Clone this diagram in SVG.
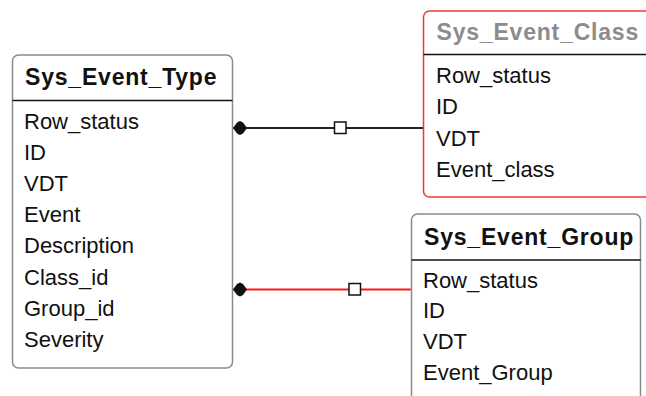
<svg xmlns="http://www.w3.org/2000/svg" width="646" height="396" viewBox="0 0 646 396">
  <style>
    .box { fill: #ffffff; stroke: #8a8a8a; stroke-width: 1.5; }
    .box.sel { stroke: #f03a3a; }
    .sep { stroke: #111111; stroke-width: 1.5; }
    .title { font-family: "Liberation Sans", Arial, sans-serif; font-size: 23px; font-weight: bold; letter-spacing: 0.8px; fill: #111111; }
    .title.dim { fill: #8c8c8c; }
    .field { font-family: "Liberation Sans", Arial, sans-serif; font-size: 22px; fill: #111111; }
    .rel { fill: none; stroke-width: 1.8; }
    .rel.black { stroke: #222222; }
    .rel.red { stroke: #ff1a1a; }
    .end-one { fill: #111111; }
    .mid { fill: #ffffff; stroke: #111111; stroke-width: 1.5; }
  </style>
  <defs>
    <!-- rounded diamond marking the "one" end -->
    <path id="dot" class="end-one" d="M-7,0 L-3,-5.5 L0,-7 L3,-5.5 L7,0 L3,5.5 L0,7 L-3,5.5 Z"/>
  </defs>

  <rect width="646" height="396" fill="#ffffff"/>

  <!-- relationships -->
  <g id="connectors">
    <line class="rel black" x1="232" y1="128" x2="423.5" y2="128"/>
    <use href="#dot" x="240" y="128"/>
    <rect class="mid" x="334.5" y="122" width="11.5" height="11.5"/>

    <line class="rel red" x1="232" y1="289.5" x2="411.5" y2="289.5"/>
    <use href="#dot" x="240" y="289.5"/>
    <rect class="mid" x="349" y="283.5" width="11.5" height="11.5"/>
  </g>

  <!-- Sys_Event_Type -->
  <g id="sys_event_type">
    <rect class="box" x="12.5" y="55" width="220" height="313" rx="6"/>
    <line class="sep" x1="12.5" y1="100.5" x2="232.5" y2="100.5"/>
    <text class="title" x="25" y="85">Sys_Event_Type</text>
    <text class="field" x="24" y="128.5">Row_status</text>
    <text class="field" x="24" y="159.7">ID</text>
    <text class="field" x="24" y="190.9">VDT</text>
    <text class="field" x="24" y="222.1">Event</text>
    <text class="field" x="24" y="253.3">Description</text>
    <text class="field" x="24" y="284.5">Class_id</text>
    <text class="field" x="24" y="315.7">Group_id</text>
    <text class="field" x="24" y="346.9">Severity</text>
  </g>

  <!-- Sys_Event_Class -->
  <g id="sys_event_class">
    <rect class="box sel" x="423.5" y="11" width="260" height="186" rx="6"/>
    <line class="sep" x1="423.5" y1="54.5" x2="646" y2="54.5"/>
    <text class="title dim" x="436.5" y="39.5">Sys_Event_Class</text>
    <text class="field" x="436" y="83">Row_status</text>
    <text class="field" x="436" y="114.3">ID</text>
    <text class="field" x="436" y="145.6">VDT</text>
    <text class="field" x="436" y="176.9">Event_class</text>
  </g>

  <!-- Sys_Event_Group -->
  <g id="sys_event_group">
    <rect class="box" x="411.5" y="214" width="229" height="220" rx="6"/>
    <line class="sep" x1="411.5" y1="260" x2="640.5" y2="260"/>
    <text class="title" x="424" y="245">Sys_Event_Group</text>
    <text class="field" x="423" y="287.5">Row_status</text>
    <text class="field" x="423" y="318.3">ID</text>
    <text class="field" x="423" y="349.1">VDT</text>
    <text class="field" x="423" y="379.9">Event_Group</text>
  </g>
</svg>
